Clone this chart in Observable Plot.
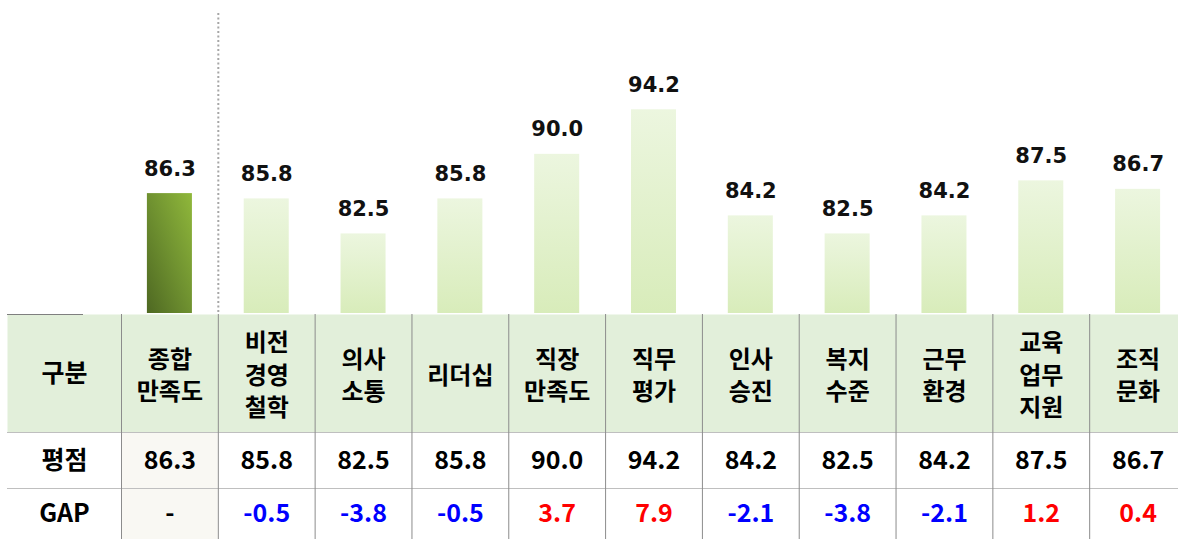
<!DOCTYPE html>
<html><head><meta charset="utf-8">
<script src="https://cdn.jsdelivr.net/npm/d3@7"></script>
<script src="https://cdn.jsdelivr.net/npm/@observablehq/plot@0.6"></script>
<style>
body{margin:0;background:#fff}
#chart{width:1178px;height:539px;overflow:hidden}
#chart svg{display:block}
</style>
</head><body><div id="chart"></div>
<script>
// ---- data ----
const categories = ["종합\n만족도","비전\n경영\n철학","의사\n소통","리더십","직장\n만족도","직무\n평가","인사\n승진","복지\n수준","근무\n환경","교육\n업무\n지원","조직\n문화"];
const scores = [86.3,85.8,82.5,85.8,90.0,94.2,84.2,82.5,84.2,87.5,86.7];
const gaps = [null,-0.5,-3.8,-0.5,3.7,7.9,-2.1,-3.8,-2.1,1.2,0.4];
const rowLabels = ["구분","평점","GAP"];

// ---- layout ----
const W = 1178;
const xRange = [121, 1186];
const step = (xRange[1]-xRange[0]) / categories.length;
const data = categories.map((c,i) => ({cat:c, score:scores[i], gap:gaps[i], i}));
const KR = "'Noto Sans CJK KR','Noto Sans',sans-serif";
const gridStroke = "#8C8C8C";

const defs = () => {
  const d = d3.create("svg:defs");
  const g1 = d.append("linearGradient").attr("id","gDark").attr("x1",0).attr("y1",1).attr("x2",1).attr("y2",0);
  g1.append("stop").attr("offset","0%").attr("stop-color","#4E6822");
  g1.append("stop").attr("offset","50%").attr("stop-color","#6F9130");
  g1.append("stop").attr("offset","100%").attr("stop-color","#90B83B");
  const g2 = d.append("linearGradient").attr("id","gLight").attr("x1",0).attr("y1",0).attr("x2",0).attr("y2",1);
  g2.append("stop").attr("offset","0%").attr("stop-color","#ECF6DF");
  g2.append("stop").attr("offset","100%").attr("stop-color","#D8ECBA");
  return d.node();
};

const bars = Plot.plot({
  width: W, height: 314,
  marginTop: 0, marginBottom: 1, marginLeft: 0, marginRight: 0,
  x: {type: "band", domain: categories, range: xRange, paddingInner: 0.535, paddingOuter: 0.2675, round: false, axis: null},
  y: {domain: [75, 104.5], axis: null},
  marks: [
    defs,
    Plot.ruleX([categories[1]], {x: d => d, dx: -step/2, insetTop: 13, stroke: "#A6A6A6", strokeWidth: 2, strokeDasharray: "2,2.5"}),
    Plot.barY(data.slice(0,1), {x: "cat", y1: 75, y2: "score", fill: "url(#gDark)"}),
    Plot.barY(data.slice(1), {x: "cat", y1: 75, y2: "score", fill: "url(#gLight)"}),
    Plot.text(data, {x: "cat", y: "score", text: d => d.score.toFixed(1), lineAnchor: "bottom", dy: -18,
      fontSize: 21, fontWeight: "bold", fontFamily: "'DejaVu Sans',sans-serif", fill: "#111"})
  ]
});

function row(height, label, extra, opts = {}) {
  return Plot.plot({
    width: W, height,
    marginTop: 0, marginBottom: 0, marginLeft: 7, marginRight: 0,
    x: {type: "band", domain: categories, range: xRange, padding: 0, round: false, axis: null},
    y: {domain: [0, 1], axis: null},
    color: {type: "identity"},
    marks: [
      ...(opts.before || []),
      Plot.ruleX(categories, {x: d => d, dx: -step/2, stroke: gridStroke}),
      Plot.text([label], {frameAnchor: "left", textAnchor: "middle", dx: 57, fontSize: 25, fontWeight: "bold", fontFamily: KR, fill: "#000"}),
      ...extra
    ]
  });
}

const header = row(118, rowLabels[0], [
  Plot.text(categories, {x: d => d, text: d => d, lineHeight: 1.35, fontSize: 24, fontWeight: "bold", fontFamily: KR, fill: "#000"})
], {before: [
  Plot.frame({fill: "#E2EFDA", stroke: null}),
  Plot.ruleY([1], {insetRight: W - 83, stroke: "#7F7F7F"})
]});

const scoreRow = row(56, rowLabels[1], [
  Plot.text(data, {x: "cat", text: d => d.score.toFixed(1), fontSize: 25, fontWeight: "bold", fontFamily: KR, fill: "#000"})
], {before: [
  Plot.cell(data.slice(0,1), {x: "cat", fill: "#F9F8F3", inset: 0}),
  Plot.ruleY([1], {stroke: "#BFBFBF"})
]});

const gapRow = row(51, rowLabels[2], [
  Plot.text(data, {x: "cat", text: d => d.gap == null ? "-" : d.gap.toFixed(1),
    fill: d => d.gap == null ? "#000" : d.gap < 0 ? "#0000FF" : "#FF0000",
    fontSize: 25, fontWeight: "bold", fontFamily: KR})
], {before: [
  Plot.cell(data.slice(0,1), {x: "cat", fill: "#F9F8F3", inset: 0}),
  Plot.ruleY([1], {stroke: "#BFBFBF"})
]});

const el = document.getElementById("chart");
el.append(bars, header, scoreRow, gapRow);
</script>
</body></html>
